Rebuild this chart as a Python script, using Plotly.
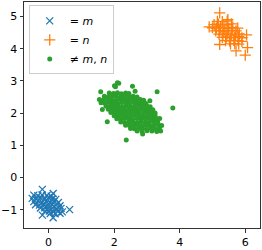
import plotly.graph_objects as go

# ---- data ----
blue_x = [-0.45, -0.33, -0.2, -0.05, 0.08,
          -0.5, -0.38, -0.25, -0.12, 0.0, 0.12, 0.22,
          -0.45, -0.32, -0.2, -0.08, 0.05, 0.17, 0.3,
          -0.4, -0.28, -0.15, -0.02, 0.1, 0.22, 0.35,
          -0.25, -0.12, 0.0, 0.12, 0.25, 0.38,
          -0.1, 0.02, 0.15, 0.28, 0.42,
          0.05, 0.2, 0.35,
          -0.19, 0.64, -0.19, 0.14, 0.14]
blue_y = [-0.55, -0.57, -0.54, -0.56, -0.58,
          -0.65, -0.66, -0.64, -0.67, -0.63, -0.66, -0.68,
          -0.75, -0.73, -0.76, -0.74, -0.77, -0.75, -0.78,
          -0.85, -0.86, -0.84, -0.87, -0.85, -0.86, -0.88,
          -0.95, -0.94, -0.96, -0.95, -0.97, -0.96,
          -1.05, -1.04, -1.06, -1.05, -1.07,
          -1.12, -1.13, -1.11,
          -0.37, -1.0, -1.17, -1.25, -0.5]

orange_x = [5.15, 5.3, 5.45,
            5.05, 5.18, 5.32, 5.45, 5.58,
            5.0, 5.12, 5.25, 5.38, 5.5, 5.62,
            5.1, 5.22, 5.35, 5.48, 5.6, 5.72,
            5.2, 5.32, 5.45, 5.58, 5.7, 5.82,
            5.3, 5.42, 5.55, 5.68, 5.8, 5.9,
            5.4, 5.52, 5.65, 5.78, 5.9,
            5.55, 5.68, 5.8,
            5.22, 4.9, 6.07, 6.04, 6.0, 5.47, 5.22, 5.72, 5.77]
orange_y = [4.85, 4.84, 4.86,
            4.75, 4.76, 4.74, 4.75, 4.77,
            4.65, 4.64, 4.66, 4.65, 4.63, 4.66,
            4.55, 4.56, 4.54, 4.55, 4.57, 4.55,
            4.45, 4.44, 4.46, 4.45, 4.43, 4.46,
            4.35, 4.36, 4.34, 4.35, 4.37, 4.34,
            4.25, 4.24, 4.26, 4.25, 4.23,
            4.15, 4.16, 4.14,
            5.11, 4.68, 4.03, 4.43, 3.8, 4.9, 4.13, 3.93, 4.64]

green_x = [1.85, 1.98, 2.1, 2.22, 2.35, 2.45,
           1.7, 1.82, 1.95, 2.07, 2.2, 2.32, 2.45, 2.58, 2.7,
           1.55, 1.67, 1.8, 1.92, 2.05, 2.17, 2.3, 2.42, 2.55, 2.67, 2.8, 2.9,
           1.6, 1.72, 1.85, 1.97, 2.1, 2.22, 2.35, 2.47, 2.6, 2.72, 2.85, 2.97,
           1.75, 1.88, 2.0, 2.12, 2.25, 2.37, 2.5, 2.62, 2.75, 2.87, 3.0, 3.1,
           1.82, 1.95, 2.07, 2.2, 2.32, 2.45, 2.57, 2.7, 2.82, 2.95, 3.07, 3.18,
           1.9, 2.02, 2.15, 2.27, 2.4, 2.52, 2.65, 2.77, 2.9, 3.02, 3.15, 3.25,
           2.0, 2.12, 2.25, 2.37, 2.5, 2.62, 2.75, 2.87, 3.0, 3.12, 3.25,
           2.08, 2.2, 2.32, 2.45, 2.57, 2.7, 2.82, 2.95, 3.07, 3.2, 3.32,
           2.2, 2.32, 2.45, 2.57, 2.7, 2.82, 2.95, 3.07, 3.2, 3.33,
           2.35, 2.47, 2.6, 2.72, 2.85, 2.97, 3.1, 3.22, 3.35, 3.45,
           2.5, 2.62, 2.75, 2.87, 3.0, 3.12, 3.25, 3.38,
           2.7, 2.85, 3.0, 3.15, 3.3,
           1.59, 1.64, 1.79, 2.01, 2.14, 2.56, 2.64, 3.31, 3.79, 2.37,
           2.87, 3.42, 3.39, 3.09, 2.04, 2.1]
green_y = [2.62, 2.61, 2.63, 2.6, 2.62, 2.61,
           2.52, 2.51, 2.53, 2.52, 2.5, 2.53, 2.51, 2.52, 2.5,
           2.42, 2.41, 2.43, 2.42, 2.4, 2.43, 2.41, 2.42, 2.44, 2.41, 2.42, 2.4,
           2.32, 2.31, 2.33, 2.32, 2.3, 2.33, 2.31, 2.32, 2.34, 2.31, 2.32, 2.3,
           2.22, 2.21, 2.23, 2.22, 2.2, 2.23, 2.21, 2.22, 2.24, 2.21, 2.22, 2.2,
           2.12, 2.11, 2.13, 2.12, 2.1, 2.13, 2.11, 2.12, 2.14, 2.11, 2.12, 2.1,
           2.02, 2.01, 2.03, 2.02, 2.0, 2.03, 2.01, 2.02, 2.04, 2.01, 2.02, 2.0,
           1.92, 1.91, 1.93, 1.92, 1.9, 1.93, 1.91, 1.92, 1.94, 1.91, 1.92,
           1.82, 1.81, 1.83, 1.82, 1.8, 1.83, 1.81, 1.82, 1.84, 1.81, 1.82,
           1.72, 1.71, 1.73, 1.72, 1.7, 1.73, 1.71, 1.72, 1.74, 1.71,
           1.62, 1.61, 1.63, 1.62, 1.6, 1.63, 1.61, 1.62, 1.64, 1.61,
           1.52, 1.51, 1.53, 1.52, 1.5, 1.53, 1.51, 1.52,
           1.44, 1.43, 1.45, 1.44, 1.43,
           2.66, 2.11, 1.73, 2.85, 2.93, 2.83, 2.68, 2.66, 2.16, 1.16,
           1.35, 1.44, 1.83, 2.38, 2.82, 2.94]

x_ticks = [0, 2, 4, 6]
y_ticks = [-1, 0, 1, 2, 3, 4, 5]

BLUE, ORANGE, GREEN = "#1f77b4", "#ff7f0e", "#2ca02c"

fig = go.Figure()
fig.add_trace(go.Scatter(x=blue_x, y=blue_y, mode="markers", name="= <i>m</i>",
                         marker=dict(symbol="x-thin", size=7, color=BLUE,
                                     line=dict(width=1.3, color=BLUE))))
fig.add_trace(go.Scatter(x=orange_x, y=orange_y, mode="markers", name="= <i>n</i>",
                         marker=dict(symbol="cross-thin", size=8, color=ORANGE,
                                     line=dict(width=1.3, color=ORANGE))))
fig.add_trace(go.Scatter(x=green_x, y=green_y, mode="markers", name="≠ <i>m</i>, <i>n</i>",
                         marker=dict(symbol="circle", size=5, color=GREEN, line=dict(width=0))))

axis_common = dict(showline=True, linecolor="#333333", linewidth=1, mirror=True,
                   ticks="outside", ticklen=3.5, tickwidth=0.8, tickcolor="#333333",
                   showgrid=False, zeroline=False,
                   tickfont=dict(family="DejaVu Sans", size=11, color="black"))

fig.update_layout(
    width=262, height=250,
    margin=dict(l=22, r=1, t=1, b=17),
    plot_bgcolor="white", paper_bgcolor="white",
    xaxis=dict(range=[-0.75, 6.45], tickvals=x_ticks, **axis_common),
    yaxis=dict(range=[-1.57, 5.45], tickvals=y_ticks, **axis_common),
    legend=dict(x=0.02, y=0.985, xanchor="left", yanchor="top",
                bgcolor="rgba(255,255,255,0.8)", bordercolor="#cccccc", borderwidth=1,
                font=dict(family="DejaVu Sans", size=11, color="black"),
                itemwidth=30, tracegroupgap=0),
    showlegend=True,
)

fig.write_html("out.html", config={"displayModeBar": False},
               post_script="document.body.style.margin='0';document.body.style.overflow='hidden';")
